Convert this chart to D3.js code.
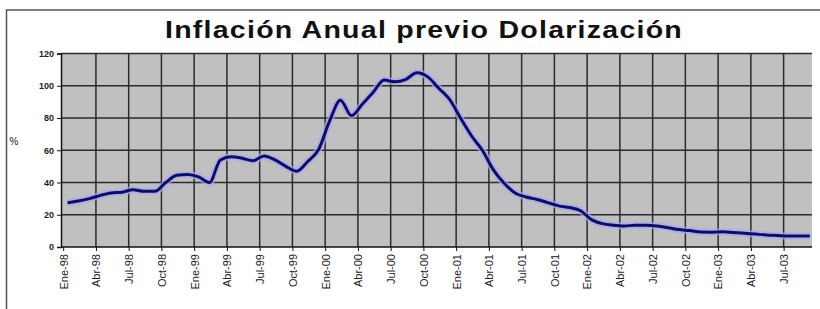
<!DOCTYPE html>
<html>
<head>
<meta charset="utf-8">
<script src="https://cdn.jsdelivr.net/npm/d3@7"></script>
<style>
  body { margin: 0; background: #fff; }
  svg { display: block; font-family: Arial, "Liberation Sans", sans-serif; }
</style>
</head>
<body>
<svg id="graph" width="820" height="309"></svg>
<script>
// monthly labels shown every 3 months (Spanish abbreviations)
const tickLabels = ['Ene-98','Abr-98','Jul-98','Oct-98','Ene-99','Abr-99','Jul-99','Oct-99',
    'Ene-00','Abr-00','Jul-00','Oct-00','Ene-01','Abr-01','Jul-01','Oct-01',
    'Ene-02','Abr-02','Jul-02','Oct-02','Ene-03','Abr-03','Jul-03'];

// annual inflation (%), one value per month, Ene-98 .. Sep-03
const inflation = [
    27.5, 28.5, 30, 32, 33.5, 34, 35.5, 34.5, 34.5, 40, 44.5, 45,
    43.5, 40, 54, 56, 55, 53.5, 56.5, 54, 50, 47, 53, 60.5,
    78, 91, 81.5, 88.5, 96, 103.5, 102.5, 104, 108, 105.5, 98.5, 91.5,
    80, 69, 60, 48, 39.5, 33.5, 31, 29.5, 27.5, 25.5, 24.5, 22.5,
    17, 14.5, 13.5, 13, 13.5, 13.5, 13, 12, 10.8, 10.2, 9.3, 9.2,
    9.4, 9, 8.5, 8, 7.5, 7.2, 6.8, 6.8, 6.8
];

const yTicks = [0, 20, 40, 60, 80, 100, 120];

(function () {
    let svg = d3.select('#graph'),
        plot = {left: 61, right: 812, top: 53.5, bottom: 247};

    let x = d3.scaleLinear().domain([-0.2, 68.6]).range([plot.left, plot.right]),
        y = d3.scaleLinear().domain([0, 120]).range([plot.bottom, plot.top]);

    // chart area border
    svg.append('rect')
        .attr('x', 6.5).attr('y', 10)
        .attr('width', 840).attr('height', 320)
        .style('fill', '#fff')
        .style('stroke', '#555')
        .style('stroke-width', 1.5);

    svg.append('text')
        .attr('x', 424)
        .attr('y', 38)
        .attr('text-anchor', 'middle')
        .attr('textLength', 518)
        .attr('lengthAdjust', 'spacingAndGlyphs')
        .style('font', 'bold 23px Arial, "Liberation Sans", sans-serif')
        .style('letter-spacing', '1px')
        .style('fill', '#111')
        .text('Inflación Anual previo Dolarización');

    // plot background
    svg.append('rect')
        .attr('x', plot.left).attr('y', plot.top)
        .attr('width', plot.right - plot.left)
        .attr('height', plot.bottom - plot.top)
        .style('fill', '#c0c0c0');

    let g = svg.append('g');

    // horizontal grid
    g.selectAll('.hgrid')
        .data(yTicks.filter(d => d > 0))
        .enter().append('line')
        .attr('class', 'hgrid')
        .attr('x1', plot.left).attr('x2', plot.right)
        .attr('y1', d => y(d)).attr('y2', d => y(d))
        .style('stroke', '#2a2a2a')
        .style('stroke-width', 1.5);

    // vertical grid, every 3 months
    let monthTicks = tickLabels.map((d, i) => i * 3);
    g.selectAll('.vgrid')
        .data(monthTicks.filter(d => d > 0))
        .enter().append('line')
        .attr('class', 'vgrid')
        .attr('x1', d => x(d)).attr('x2', d => x(d))
        .attr('y1', plot.top).attr('y2', plot.bottom)
        .style('stroke', '#2a2a2a')
        .style('stroke-width', 1.5);

    // y axis
    let yAxis = g.append('g')
        .attr('transform', `translate(${plot.left},0)`)
        .call(d3.axisLeft(y).tickValues(yTicks).tickSize(4).tickPadding(3));
    yAxis.select('.domain').style('stroke', '#111').style('stroke-width', 1.5);
    yAxis.selectAll('.tick line').style('stroke', '#111');
    yAxis.selectAll('text')
        .style('font', 'bold 9px Arial, "Liberation Sans", sans-serif')
        .style('fill', '#222');

    // x axis
    let xAxis = g.append('g')
        .attr('transform', `translate(0,${plot.bottom})`)
        .call(d3.axisBottom(x).tickValues(monthTicks).tickSize(4)
            .tickFormat((d, i) => tickLabels[i]));
    xAxis.select('.domain').remove();
    xAxis.append('line')
        .attr('x1', plot.left).attr('x2', plot.right)
        .style('stroke', '#111').style('stroke-width', 1.5);
    xAxis.selectAll('.tick line').style('stroke', '#111');
    xAxis.selectAll('text')
        .attr('transform', 'rotate(-90)')
        .attr('text-anchor', 'end')
        .attr('x', -7)
        .attr('y', 0)
        .attr('dy', '0.35em')
        .style('font', '11px Arial, "Liberation Sans", sans-serif')
        .style('fill', '#222');

    svg.append('text')
        .attr('x', 14).attr('y', 145)
        .attr('text-anchor', 'middle')
        .style('font', '10px Arial, "Liberation Sans", sans-serif')
        .style('fill', '#222')
        .text('%');

    let line = d3.line()
        .curve(d3.curveMonotoneX)
        .x((d, i) => x(i + 0.4))
        .y(d => y(d));

    // soft halo under the series line
    g.append('path')
        .attr('d', line(inflation))
        .style('fill', 'none')
        .style('stroke', '#a8a8e8')
        .style('stroke-width', 7)
        .style('stroke-linejoin', 'round')
        .style('opacity', 0.7);

    g.append('path')
        .attr('d', line(inflation))
        .style('fill', 'none')
        .style('stroke', '#0c0c6e')
        .style('stroke-width', 3)
        .style('stroke-linejoin', 'round');
}());
</script>
</body>
</html>
